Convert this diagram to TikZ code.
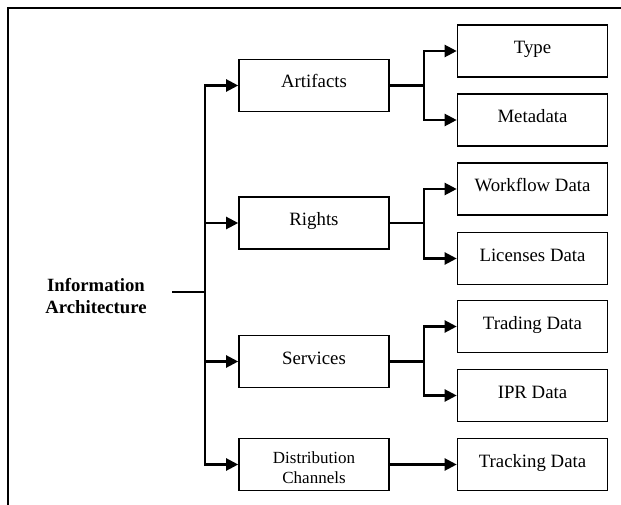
\documentclass[tikz,border=0pt]{standalone}
\usepackage{fontspec}
\setmainfont{Liberation Serif}
\usetikzlibrary{arrows.meta}

\tikzset{
  box/.style={draw, line width=1.6pt, rectangle, inner sep=0pt,
    minimum width=150pt, minimum height=52pt,
    font=\fontsize{18.8}{22}\selectfont, text height=13pt, text depth=8pt},
  twobox/.style={draw, line width=1.6pt, rectangle, inner sep=0pt,
    minimum width=150pt, minimum height=52pt,
    font=\fontsize{17}{20}\selectfont, align=center},
  conn/.style={line width=2.2pt},
  arr/.style={conn, -{Triangle[length=12pt, width=12pt]}},
  frame/.style={line width=1.5pt}
}

\begin{document}
\begin{tikzpicture}[x=1pt, y=-1pt]
  \useasboundingbox (0,0) rectangle (621,505);

  % open frame: top and left rules only
  \draw[frame] (8,505) -- (8,8) -- (621,8);

  % root label
  \node[font=\bfseries\fontsize{18.7}{22}\selectfont, align=center]
    (info) at (96,296) {Information\\Architecture};

  % second level
  \node[box] (art)  at (314,85.5)  {Artifacts};
  \node[box] (rig)  at (314,223)   {Rights};
  \node[box] (ser)  at (314,361.5) {Services};
  \node[twobox] (dis) at (314,464.5)
    {\raisebox{-3pt}[32pt][0pt]{\begin{tabular}[b]{@{}c@{}}Distribution\\Channels\end{tabular}}};

  % third level
  \node[box] (typ) at (532.5,51)    {Type};
  \node[box] (met) at (532.5,120)   {Metadata};
  \node[box] (wfd) at (532.5,189)   {Workflow Data};
  \node[box] (lic) at (532.5,258.5) {Licenses Data};
  \node[box] (trd) at (532.5,326.5) {Trading Data};
  \node[box] (ipr) at (532.5,395.5) {IPR Data};
  \node[box] (trk) at (532.5,464.5) {Tracking Data};

  % root bus
  \coordinate (j0) at (205,292);
  \draw[conn] ([xshift=22pt]info.east |- j0) -- (j0);
  \draw[arr] (j0) |- (art);
  \draw[arr] (j0) |- (rig);
  \draw[arr] (j0) |- (ser);
  \draw[arr] (j0) |- (dis);

  % branches to the leaves
  \draw[conn] (art.east) -- ++(34,0) coordinate (ja);
  \draw[arr] (ja) |- (typ);
  \draw[arr] (ja) |- (met);

  \draw[conn] (rig.east) -- ++(34,0) coordinate (jr);
  \draw[arr] (jr) |- (wfd);
  \draw[arr] (jr) |- (lic);

  \draw[conn] (ser.east) -- ++(34,0) coordinate (js);
  \draw[arr] (js) |- (trd);
  \draw[arr] (js) |- (ipr);

  \draw[arr] (dis) -- (trk);
\end{tikzpicture}
\end{document}
